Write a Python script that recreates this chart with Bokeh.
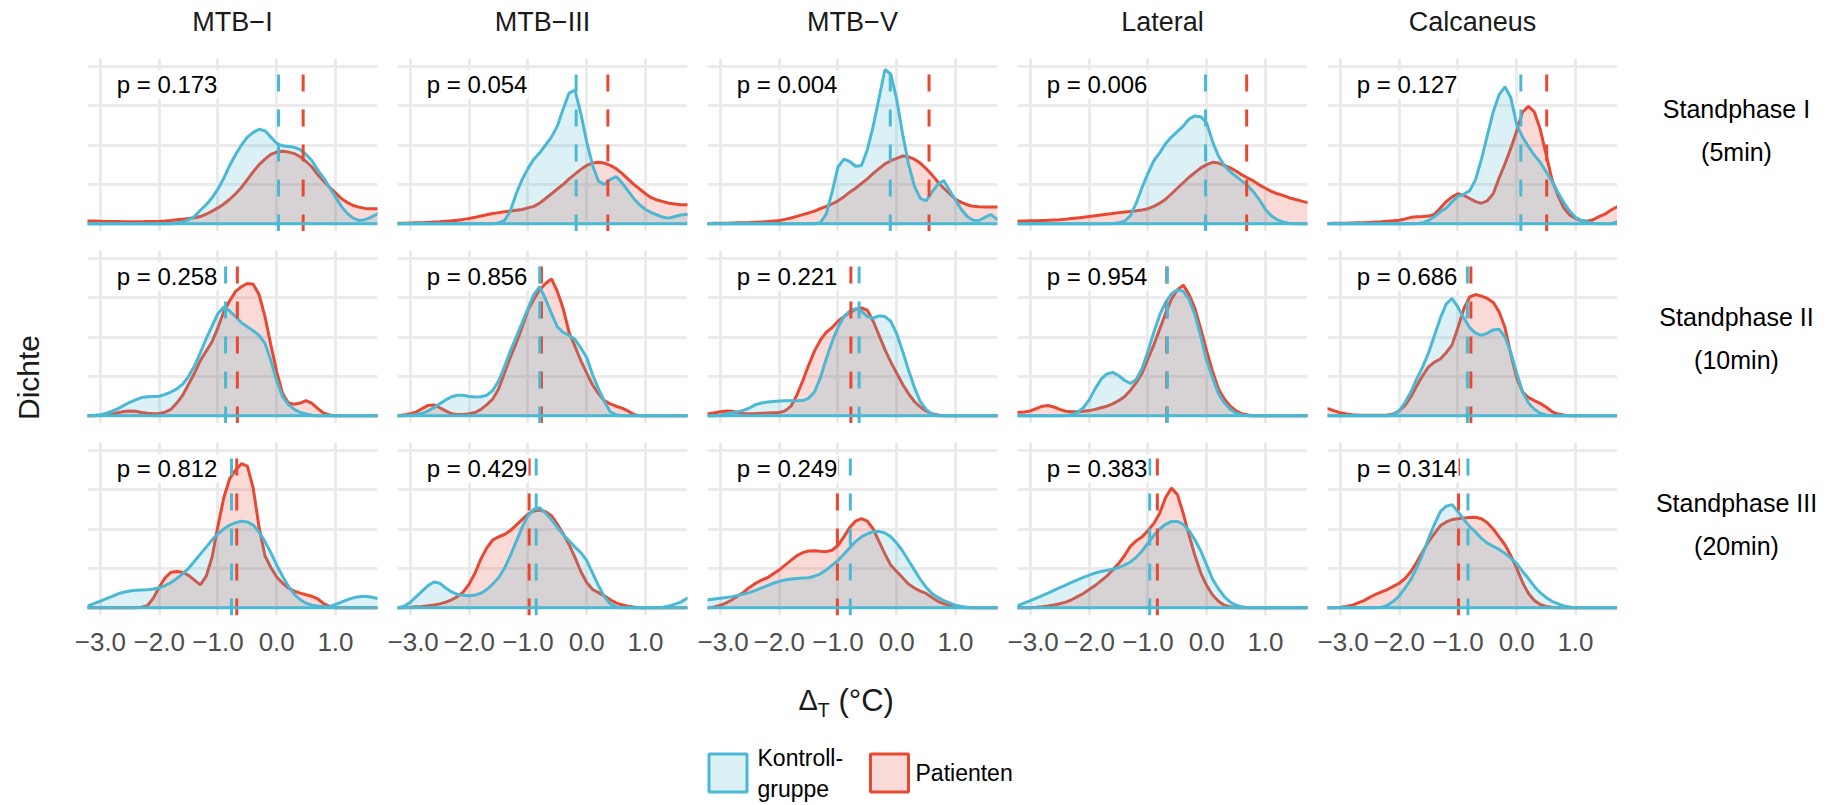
import math
from bokeh.plotting import figure
from bokeh.layouts import row, column
from bokeh.models import Range1d, Grid, FixedTicker, LinearAxis, Span
from bokeh.core.properties import value
from bokeh.embed import file_html
from bokeh.resources import INLINE

# ---------------- data ----------------
COLUMNS = ["MTB−I", "MTB−III", "MTB−V", "Lateral", "Calcaneus"]
ROWS = ["Standphase I\n(5min)", "Standphase II\n(10min)", "Standphase III\n(20min)"]
GROUPS = ["Kontroll-\ngruppe", "Patienten"]
X_TICKS = [-3, -2, -1, 0, 1]
X_TICK_LABELS = ["−3.0", "−2.0", "−1.0", "0.0", "1.0"]
Y_GRID = [0, 0.25, 0.5, 0.75, 1.0]

X = [-3.3, -3.2, -3.1, -3.0, -2.9, -2.8, -2.7, -2.6, -2.5, -2.4,
     -2.3, -2.2, -2.1, -2.0, -1.9, -1.8, -1.7, -1.6, -1.5, -1.4,
     -1.3, -1.2, -1.1, -1.0, -0.9, -0.8, -0.7, -0.6, -0.5, -0.4,
     -0.3, -0.2, -0.1, 0.0, 0.1, 0.2, 0.3, 0.4, 0.5, 0.6,
     0.7, 0.8, 0.9, 1.0, 1.1, 1.2, 1.3, 1.4, 1.5, 1.6,
     1.7, 1.8]

P_S1 = ["0.173", "0.054", "0.004", "0.006", "0.127"]
P_S2 = ["0.258", "0.856", "0.221", "0.954", "0.686"]
P_S3 = ["0.812", "0.429", "0.249", "0.383", "0.314"]

MEAN_CTRL_S1 = [0.03, -0.18, -0.11, -0.02, 0.07]
MEAN_PAT_S1 = [0.45, 0.36, 0.55, 0.68, 0.51]
MEAN_CTRL_S2 = [-0.87, -0.80, -0.64, -0.67, -0.84]
MEAN_PAT_S2 = [-0.67, -0.77, -0.78, -0.68, -0.78]
MEAN_CTRL_S3 = [-0.77, -0.86, -0.79, -0.97, -0.83]
MEAN_PAT_S3 = [-0.68, -0.98, -1.01, -0.84, -0.99]

CTRL_S1_MTB_I = [0, 0, 0, 0, 0, 0, 0, 0, 0, 0,
                 0, 0, 0, 0, 0, 0, 0.005, 0.01, 0.025, 0.045,
                 0.085, 0.12, 0.165, 0.22, 0.29, 0.37, 0.44, 0.50, 0.55, 0.58,
                 0.60, 0.59, 0.55, 0.51, 0.495, 0.49, 0.485, 0.47, 0.44, 0.40,
                 0.34, 0.29, 0.23, 0.17, 0.11, 0.065, 0.035, 0.02, 0.025, 0.04,
                 0.06, 0.08]
PAT_S1_MTB_I = [0.018, 0.017, 0.016, 0.015, 0.014, 0.013, 0.013, 0.012, 0.012, 0.012,
                0.012, 0.013, 0.014, 0.015, 0.017, 0.02, 0.024, 0.028, 0.033, 0.038,
                0.045, 0.06, 0.08, 0.10, 0.125, 0.155, 0.19, 0.23, 0.28, 0.33,
                0.375, 0.41, 0.44, 0.455, 0.46, 0.455, 0.445, 0.425, 0.395, 0.36,
                0.31, 0.27, 0.23, 0.195, 0.16, 0.135, 0.115, 0.105, 0.097, 0.095,
                0.095, 0.095]
CTRL_S1_MTB_III = [0, 0, 0, 0, 0, 0, 0, 0, 0, 0,
                   0, 0, 0, 0, 0, 0, 0, 0, 0.005, 0.02,
                   0.08, 0.19, 0.28, 0.35, 0.41, 0.45, 0.5, 0.55, 0.62, 0.73,
                   0.83, 0.85, 0.70, 0.52, 0.37, 0.27, 0.25, 0.28, 0.30, 0.26,
                   0.21, 0.16, 0.12, 0.09, 0.07, 0.055, 0.04, 0.035, 0.045, 0.055,
                   0.06, 0.055]
PAT_S1_MTB_III = [0.002, 0.002, 0.003, 0.004, 0.005, 0.006, 0.008, 0.01, 0.012, 0.015,
                  0.018, 0.022, 0.027, 0.033, 0.04, 0.048, 0.056, 0.064, 0.07, 0.075,
                  0.08, 0.085, 0.09, 0.1, 0.11, 0.13, 0.16, 0.19, 0.22, 0.25,
                  0.285, 0.315, 0.345, 0.37, 0.385, 0.39, 0.385, 0.37, 0.35, 0.32,
                  0.285, 0.25, 0.22, 0.19, 0.165, 0.15, 0.14, 0.13, 0.125, 0.12,
                  0.12, 0.12]
CTRL_S1_MTB_V = [0, 0, 0, 0, 0, 0, 0, 0, 0, 0,
                 0, 0, 0, 0, 0, 0, 0, 0, 0, 0,
                 0.005, 0.06, 0.2, 0.36, 0.41, 0.395, 0.365, 0.37, 0.47, 0.62,
                 0.80, 0.98, 0.95, 0.79, 0.57, 0.38, 0.24, 0.16, 0.145, 0.20,
                 0.25, 0.275, 0.21, 0.15, 0.09, 0.045, 0.022, 0.02, 0.04, 0.058,
                 0.03, 0.015]
PAT_S1_MTB_V = [0.001, 0.001, 0.002, 0.002, 0.003, 0.004, 0.005, 0.006, 0.007, 0.009,
                0.011, 0.013, 0.016, 0.02, 0.027, 0.036, 0.046, 0.057, 0.068, 0.08,
                0.095, 0.11, 0.125, 0.145, 0.17, 0.2, 0.225, 0.255, 0.285, 0.32,
                0.35, 0.38, 0.4, 0.415, 0.43, 0.425, 0.41, 0.385, 0.35, 0.31,
                0.265, 0.225, 0.19, 0.155, 0.135, 0.12, 0.11, 0.107, 0.106, 0.106,
                0.106, 0.106]
CTRL_S1_LATERAL = [0, 0, 0, 0, 0, 0, 0, 0, 0, 0,
                   0, 0, 0, 0, 0, 0, 0, 0, 0.005, 0.015,
                   0.05, 0.13, 0.23, 0.32, 0.40, 0.45, 0.51, 0.55, 0.585, 0.62,
                   0.665, 0.685, 0.68, 0.64, 0.52, 0.43, 0.37, 0.33, 0.30, 0.27,
                   0.24, 0.2, 0.15, 0.09, 0.05, 0.025, 0.01, 0.003, 0, 0,
                   0, 0]
PAT_S1_LATERAL = [0.015, 0.016, 0.017, 0.018, 0.019, 0.02, 0.021, 0.023, 0.025, 0.028,
                  0.032, 0.036, 0.04, 0.045, 0.05, 0.055, 0.06, 0.065, 0.07, 0.074,
                  0.078, 0.082, 0.087, 0.095, 0.11, 0.13, 0.155, 0.19, 0.225, 0.26,
                  0.295, 0.325, 0.355, 0.375, 0.39, 0.385, 0.37, 0.355, 0.335, 0.31,
                  0.29, 0.27, 0.245, 0.225, 0.205, 0.19, 0.18, 0.165, 0.155, 0.145,
                  0.135, 0.13]
CTRL_S1_CALCANEUS = [0, 0, 0, 0, 0, 0, 0, 0, 0, 0,
                     0, 0, 0, 0, 0, 0, 0, 0.005, 0.02, 0.045,
                     0.075, 0.10, 0.14, 0.175, 0.187, 0.21, 0.28, 0.41, 0.56, 0.71,
                     0.82, 0.87, 0.80, 0.63, 0.55, 0.49, 0.435, 0.39, 0.33, 0.27,
                     0.2, 0.135, 0.08, 0.04, 0.02, 0.01, 0.003, 0, 0, 0,
                     0.01, 0.02]
PAT_S1_CALCANEUS = [0.001, 0.001, 0.002, 0.002, 0.003, 0.004, 0.005, 0.006, 0.008, 0.01,
                    0.012, 0.015, 0.018, 0.022, 0.03, 0.04, 0.044, 0.045, 0.048, 0.06,
                    0.1, 0.14, 0.17, 0.19, 0.18, 0.16, 0.14, 0.13, 0.145, 0.19,
                    0.29, 0.38, 0.48, 0.59, 0.71, 0.745, 0.71, 0.60, 0.44, 0.28,
                    0.18, 0.1, 0.055, 0.033, 0.02, 0.015, 0.025, 0.045, 0.06, 0.085,
                    0.105, 0.12]

CTRL_S2_MTB_I = [0, 0, 0.002, 0.006, 0.015, 0.028, 0.045, 0.065, 0.085, 0.1,
                 0.115, 0.12, 0.122, 0.123, 0.135, 0.15, 0.17, 0.2, 0.25, 0.315,
                 0.4, 0.49, 0.57, 0.65, 0.69, 0.665, 0.63, 0.59, 0.565, 0.54,
                 0.51, 0.46, 0.35, 0.22, 0.12, 0.07, 0.04, 0.02, 0.01, 0.003,
                 0, 0, 0, 0, 0, 0, 0, 0, 0, 0,
                 0, 0]
PAT_S2_MTB_I = [0, 0, 0, 0.002, 0.005, 0.01, 0.018, 0.026, 0.03, 0.028,
                0.02, 0.015, 0.012, 0.014, 0.022, 0.04, 0.08, 0.13, 0.2, 0.27,
                0.35, 0.41, 0.47, 0.56, 0.66, 0.73, 0.79, 0.82, 0.84, 0.835,
                0.77, 0.63, 0.45, 0.28, 0.14, 0.08, 0.072, 0.08, 0.095, 0.078,
                0.045, 0.015, 0.004, 0, 0, 0, 0, 0, 0, 0,
                0, 0]
CTRL_S2_MTB_III = [0, 0, 0, 0.003, 0.008, 0.015, 0.03, 0.05, 0.075, 0.1,
                   0.12, 0.13, 0.13, 0.122, 0.118, 0.12, 0.13, 0.16, 0.22, 0.31,
                   0.41, 0.5, 0.59, 0.68, 0.77, 0.82, 0.74, 0.65, 0.565, 0.53,
                   0.51, 0.485, 0.43, 0.37, 0.26, 0.17, 0.09, 0.025, 0.005, 0,
                   0, 0, 0, 0, 0, 0, 0, 0, 0, 0,
                   0, 0]
PAT_S2_MTB_III = [0, 0, 0.005, 0.012, 0.024, 0.045, 0.065, 0.068, 0.05, 0.03,
                  0.012, 0.007, 0.008, 0.012, 0.02, 0.04, 0.07, 0.105, 0.17, 0.27,
                  0.37, 0.46, 0.56, 0.67, 0.74, 0.8, 0.84, 0.87, 0.79, 0.68,
                  0.53, 0.44, 0.35, 0.27, 0.195, 0.14, 0.095, 0.075, 0.06, 0.048,
                  0.03, 0.008, 0, 0, 0, 0, 0, 0, 0, 0,
                  0, 0]
CTRL_S2_MTB_V = [0, 0, 0, 0.004, 0.01, 0.018, 0.025, 0.035, 0.05, 0.07,
                 0.08, 0.087, 0.09, 0.093, 0.094, 0.094, 0.094, 0.096, 0.11, 0.15,
                 0.24, 0.36, 0.47, 0.56, 0.63, 0.665, 0.68, 0.665, 0.63, 0.62,
                 0.635, 0.63, 0.6, 0.52, 0.41, 0.29, 0.18, 0.09, 0.04, 0.01,
                 0, 0, 0, 0, 0, 0, 0, 0, 0, 0,
                 0, 0]
PAT_S2_MTB_V = [0.01, 0.012, 0.018, 0.025, 0.03, 0.028, 0.02, 0.014, 0.012, 0.013,
                0.015, 0.017, 0.019, 0.02, 0.03, 0.06, 0.13, 0.22, 0.32, 0.41,
                0.48, 0.53, 0.56, 0.6, 0.63, 0.655, 0.675, 0.685, 0.67, 0.6,
                0.51, 0.42, 0.34, 0.27, 0.2, 0.14, 0.09, 0.055, 0.03, 0.012,
                0.004, 0, 0, 0, 0, 0, 0, 0, 0, 0,
                0, 0]
CTRL_S2_LATERAL = [0, 0, 0, 0, 0, 0, 0, 0, 0, 0,
                   0.005, 0.02, 0.05, 0.1, 0.17, 0.23, 0.265, 0.275, 0.255, 0.225,
                   0.205, 0.23, 0.3, 0.41, 0.53, 0.64, 0.72, 0.775, 0.8, 0.79,
                   0.74, 0.64, 0.50, 0.35, 0.24, 0.14, 0.08, 0.04, 0.015, 0.005,
                   0, 0, 0, 0, 0, 0, 0, 0, 0, 0,
                   0, 0]
PAT_S2_LATERAL = [0.022, 0.022, 0.023, 0.03, 0.045, 0.06, 0.064, 0.055, 0.04, 0.028,
                  0.024, 0.025, 0.028, 0.032, 0.04, 0.05, 0.06, 0.075, 0.095, 0.12,
                  0.16, 0.21, 0.27, 0.36, 0.45, 0.55, 0.65, 0.74, 0.8, 0.83,
                  0.77, 0.68, 0.55, 0.41, 0.28, 0.17, 0.106, 0.06, 0.03, 0.012,
                  0.004, 0, 0, 0, 0, 0, 0, 0, 0, 0,
                  0, 0]
CTRL_S2_CALCANEUS = [0, 0, 0, 0, 0, 0, 0, 0, 0, 0,
                     0, 0, 0.008, 0.03, 0.085, 0.15, 0.235, 0.31, 0.40, 0.51,
                     0.62, 0.71, 0.745, 0.69, 0.62, 0.56, 0.525, 0.51, 0.525, 0.545,
                     0.55, 0.5, 0.4, 0.27, 0.15, 0.08, 0.04, 0.015, 0.004, 0,
                     0, 0, 0, 0, 0, 0, 0, 0, 0, 0,
                     0, 0]
PAT_S2_CALCANEUS = [0.05, 0.043, 0.03, 0.018, 0.01, 0.006, 0.004, 0.003, 0.003, 0.003,
                    0.003, 0.004, 0.01, 0.03, 0.065, 0.12, 0.19, 0.255, 0.31, 0.34,
                    0.36, 0.4, 0.45, 0.56, 0.68, 0.755, 0.77, 0.76, 0.745, 0.72,
                    0.66, 0.56, 0.39, 0.24, 0.15, 0.115, 0.095, 0.078, 0.055, 0.025,
                    0.01, 0.004, 0, 0, 0, 0, 0, 0, 0, 0,
                    0, 0]

CTRL_S3_MTB_I = [0.005, 0.013, 0.027, 0.042, 0.057, 0.072, 0.088, 0.098, 0.106, 0.11,
                 0.112, 0.114, 0.118, 0.126, 0.14, 0.16, 0.185, 0.215, 0.25, 0.295,
                 0.34, 0.385, 0.43, 0.47, 0.5, 0.525, 0.54, 0.55, 0.545, 0.525,
                 0.48, 0.42, 0.35, 0.27, 0.2, 0.135, 0.085, 0.05, 0.028, 0.016,
                 0.01, 0.005, 0.008, 0.02, 0.035, 0.05, 0.062, 0.07, 0.072, 0.068,
                 0.06, 0.05]
PAT_S3_MTB_I = [0, 0, 0, 0, 0, 0, 0, 0, 0, 0,
                0.002, 0.012, 0.06, 0.13, 0.19, 0.225, 0.23, 0.225, 0.205, 0.175,
                0.145, 0.2, 0.32, 0.52, 0.7, 0.82, 0.875, 0.915, 0.9, 0.76,
                0.51, 0.33, 0.255, 0.195, 0.155, 0.125, 0.105, 0.092, 0.082, 0.072,
                0.055, 0.025, 0.008, 0, 0, 0, 0, 0, 0, 0,
                0, 0]
CTRL_S3_MTB_III = [0, 0, 0.01, 0.035, 0.07, 0.105, 0.14, 0.163, 0.155, 0.125,
                   0.1, 0.085, 0.078, 0.075, 0.08, 0.092, 0.115, 0.15, 0.19, 0.25,
                   0.33, 0.42, 0.51, 0.585, 0.625, 0.635, 0.6, 0.56, 0.51, 0.465,
                   0.425, 0.385, 0.35, 0.30, 0.22, 0.14, 0.07, 0.025, 0.005, 0,
                   0, 0, 0, 0, 0, 0, 0.002, 0.01, 0.022, 0.035,
                   0.058, 0.075]
PAT_S3_MTB_III = [0, 0, 0, 0.002, 0.005, 0.008, 0.012, 0.017, 0.024, 0.035,
                  0.05, 0.07, 0.1, 0.15, 0.22, 0.31, 0.38, 0.43, 0.45, 0.465,
                  0.49, 0.525, 0.56, 0.595, 0.615, 0.62, 0.61, 0.585, 0.53, 0.47,
                  0.4, 0.32, 0.23, 0.16, 0.115, 0.095, 0.075, 0.05, 0.03, 0.018,
                  0.009, 0.004, 0, 0, 0, 0, 0, 0, 0, 0,
                  0, 0]
CTRL_S3_MTB_V = [0.045, 0.05, 0.055, 0.06, 0.065, 0.07, 0.078, 0.087, 0.097, 0.11,
                 0.125, 0.14, 0.155, 0.167, 0.176, 0.182, 0.186, 0.188, 0.19, 0.2,
                 0.215, 0.24, 0.27, 0.3, 0.34, 0.38, 0.42, 0.45, 0.47, 0.483,
                 0.485, 0.475, 0.45, 0.41, 0.36, 0.3, 0.24, 0.18, 0.13, 0.09,
                 0.065, 0.045, 0.03, 0.015, 0.007, 0.002, 0, 0, 0, 0,
                 0, 0]
PAT_S3_MTB_V = [0, 0, 0.004, 0.015, 0.03, 0.05, 0.075, 0.1, 0.13, 0.155,
                0.175, 0.19, 0.215, 0.24, 0.27, 0.3, 0.33, 0.35, 0.36, 0.362,
                0.358, 0.356, 0.365, 0.395, 0.45, 0.51, 0.55, 0.566, 0.55, 0.5,
                0.42, 0.34, 0.27, 0.23, 0.19, 0.15, 0.125, 0.105, 0.09, 0.065,
                0.04, 0.025, 0.015, 0.008, 0.003, 0, 0, 0, 0, 0,
                0, 0]
CTRL_S3_LATERAL = [0.005, 0.015, 0.03, 0.045, 0.06, 0.077, 0.093, 0.11, 0.127, 0.143,
                   0.16, 0.177, 0.193, 0.207, 0.22, 0.23, 0.238, 0.245, 0.255, 0.27,
                   0.29, 0.32, 0.36, 0.41, 0.46, 0.5, 0.53, 0.548, 0.548, 0.53,
                   0.49, 0.43, 0.36, 0.27, 0.18, 0.12, 0.07, 0.035, 0.015, 0.005,
                   0, 0, 0, 0, 0, 0, 0, 0, 0, 0,
                   0, 0]
PAT_S3_LATERAL = [0, 0, 0, 0, 0.002, 0.005, 0.01, 0.017, 0.025, 0.035,
                  0.05, 0.07, 0.09, 0.115, 0.14, 0.17, 0.2, 0.24, 0.28, 0.33,
                  0.39, 0.425, 0.45, 0.49, 0.535, 0.6, 0.7, 0.76, 0.72, 0.6,
                  0.46, 0.33, 0.22, 0.14, 0.08, 0.04, 0.015, 0.005, 0, 0,
                  0, 0, 0, 0, 0, 0, 0, 0, 0, 0,
                  0, 0]
CTRL_S3_CALCANEUS = [0, 0, 0, 0, 0, 0, 0, 0, 0, 0,
                     0.002, 0.015, 0.04, 0.075, 0.125, 0.18, 0.255, 0.34, 0.44, 0.53,
                     0.61, 0.645, 0.655, 0.61, 0.56, 0.515, 0.48, 0.44, 0.41, 0.39,
                     0.37, 0.345, 0.315, 0.28, 0.23, 0.185, 0.135, 0.095, 0.065, 0.04,
                     0.025, 0.01, 0.004, 0, 0, 0, 0, 0, 0, 0,
                     0, 0]
PAT_S3_CALCANEUS = [0, 0, 0, 0.003, 0.008, 0.015, 0.03, 0.045, 0.065, 0.085,
                    0.1, 0.115, 0.135, 0.155, 0.185, 0.23, 0.29, 0.355, 0.42, 0.47,
                    0.52, 0.545, 0.56, 0.565, 0.57, 0.573, 0.575, 0.565, 0.54, 0.5,
                    0.45, 0.4, 0.33, 0.25, 0.16, 0.09, 0.045, 0.02, 0.008, 0.003,
                    0, 0, 0, 0, 0, 0, 0, 0, 0, 0,
                    0, 0]

CTRL = [[CTRL_S1_MTB_I, CTRL_S1_MTB_III, CTRL_S1_MTB_V, CTRL_S1_LATERAL, CTRL_S1_CALCANEUS],
        [CTRL_S2_MTB_I, CTRL_S2_MTB_III, CTRL_S2_MTB_V, CTRL_S2_LATERAL, CTRL_S2_CALCANEUS],
        [CTRL_S3_MTB_I, CTRL_S3_MTB_III, CTRL_S3_MTB_V, CTRL_S3_LATERAL, CTRL_S3_CALCANEUS]]
PAT = [[PAT_S1_MTB_I, PAT_S1_MTB_III, PAT_S1_MTB_V, PAT_S1_LATERAL, PAT_S1_CALCANEUS],
       [PAT_S2_MTB_I, PAT_S2_MTB_III, PAT_S2_MTB_V, PAT_S2_LATERAL, PAT_S2_CALCANEUS],
       [PAT_S3_MTB_I, PAT_S3_MTB_III, PAT_S3_MTB_V, PAT_S3_LATERAL, PAT_S3_CALCANEUS]]
P_VALUES = [P_S1, P_S2, P_S3]
MEAN_CTRL = [MEAN_CTRL_S1, MEAN_CTRL_S2, MEAN_CTRL_S3]
MEAN_PAT = [MEAN_PAT_S1, MEAN_PAT_S2, MEAN_PAT_S3]

for grp in CTRL + PAT:
    for arr in grp:
        assert len(arr) == len(X), len(arr)

# ---------------- style / layout ----------------
FONT = "Liberation Sans"
BLUE = "#4BB8D4"
RED = "#E84832"
GRID_C = "#EBEBEB"
TXT = "#1A1A1A"

W, H = 1838, 805
PANEL0_X = 87          # page x of first panel's left edge
PANEL_W = 290
HGAP = 20
PAD = 10               # side room inside each panel canvas for tick labels
LEFT_W = PANEL0_X - 15
PANEL_H = 173
VGAP = 19
TITLE_H = 58
AXIS_H = 55
MID_W = 5 * PANEL_W + 4 * HGAP + 15
RIGHT_W = W - LEFT_W - MID_W
BOTTOM_H = H - TITLE_H - 3 * PANEL_H - 2 * VGAP - AXIS_H
XR = (-3.22, 1.715)
YR = (-0.05, 1.05)


def blank(width, height, xr, yr):
    p = figure(width=width, height=height, x_range=Range1d(*xr), y_range=Range1d(*yr),
               x_axis_location=None, y_axis_location=None, toolbar_location=None,
               output_backend="svg", min_border_left=0, min_border_right=0,
               min_border_top=0, min_border_bottom=0, outline_line_color=None,
               background_fill_color="white", border_fill_color="white")
    p.grid.visible = False
    return p


def panel(r, c):
    left = 15 if c == 0 else PAD
    right = PAD if c < 4 else 0
    top = 0 if r == 0 else VGAP
    bottom = AXIS_H if r == 2 else 0
    p = figure(width=PANEL_W + left + right, height=PANEL_H + top + bottom,
               x_range=Range1d(*XR), y_range=Range1d(*YR),
               x_axis_location=None, y_axis_location=None, toolbar_location=None,
               output_backend="svg", min_border_left=left, min_border_right=right,
               min_border_top=top, min_border_bottom=bottom, outline_line_color=None,
               background_fill_color="white", border_fill_color="white")
    p.grid.visible = False
    p.add_layout(Grid(dimension=0, ticker=FixedTicker(ticks=X_TICKS),
                      grid_line_color=GRID_C, grid_line_width=3))
    p.add_layout(Grid(dimension=1, ticker=FixedTicker(ticks=Y_GRID),
                      grid_line_color=GRID_C, grid_line_width=3))

    p.varea(x=X, y1=0, y2=PAT[r][c], fill_color=RED, fill_alpha=0.2)
    p.line(X, PAT[r][c], line_color=RED, line_width=3)
    p.varea(x=X, y1=0, y2=CTRL[r][c], fill_color=BLUE, fill_alpha=0.2)
    p.line(X, CTRL[r][c], line_color=BLUE, line_width=3)
    p.add_layout(Span(location=0, dimension="width", line_color=BLUE, line_width=3))

    p.segment(x0=[MEAN_PAT[r][c]], y0=[YR[0]], x1=[MEAN_PAT[r][c]], y1=[YR[1]],
              line_color=RED, line_width=3, line_dash="17 18")
    p.segment(x0=[MEAN_CTRL[r][c]], y0=[YR[0]], x1=[MEAN_CTRL[r][c]], y1=[YR[1]],
              line_color=BLUE, line_width=3, line_dash="17 18")

    p.text(x=[-2.74], y=[0.885], text=["p = " + P_VALUES[r][c]],
           text_font=value(FONT), text_font_size="24px", text_color="black",
           text_align="left", text_baseline="middle",
           background_fill_color="white", padding=1)

    if r == 2:
        ax = LinearAxis(ticker=FixedTicker(ticks=X_TICKS),
                        major_label_overrides=dict(zip(X_TICKS, X_TICK_LABELS)),
                        axis_line_color=None, major_tick_line_color=None,
                        minor_tick_line_color=None, major_tick_in=0, major_tick_out=0,
                        major_label_standoff=17, major_label_text_font=FONT,
                        major_label_text_font_size="26px",
                        major_label_text_color="#4D4D4D")
        p.add_layout(ax, "below")
    return p


# column titles
title_fig = blank(MID_W, TITLE_H, (LEFT_W, LEFT_W + MID_W), (TITLE_H, 0))
title_x = [PANEL0_X + PANEL_W / 2 + i * (PANEL_W + HGAP) for i in range(len(COLUMNS))]
title_fig.text(x=title_x, y=[21] * len(COLUMNS), text=COLUMNS,
               text_font=value(FONT), text_font_size="27px", text_color=TXT,
               text_align="center", text_baseline="middle")

panel_rows = [row(*[panel(r, c) for c in range(5)], spacing=0) for r in range(3)]

# bottom: axis title and legend
top_b = H - BOTTOM_H
bottom_fig = blank(MID_W, BOTTOM_H, (LEFT_W, LEFT_W + MID_W), (H, top_b))
bottom_fig.text(x=[798], y=[699], text=["Δ"], text_font=value(FONT),
                text_font_size="29px", text_color=TXT, text_align="left",
                text_baseline="middle")
bottom_fig.text(x=[817], y=[709], text=["T"], text_font=value(FONT),
                text_font_size="20px", text_color=TXT, text_align="left",
                text_baseline="middle")
bottom_fig.text(x=[838], y=[700], text=["(°C)"], text_font=value(FONT),
                text_font_size="31px", text_color=TXT, text_align="left",
                text_baseline="middle")
bottom_fig.rect(x=[727.5, 889], y=[772.5, 772.5], width=38, height=38,
                fill_color=[BLUE, RED], fill_alpha=0.2, line_color=[BLUE, RED],
                line_width=3)
bottom_fig.text(x=[757, 915], y=[773, 772], text=GROUPS, text_font=value(FONT),
                text_font_size="23px", text_color="black", text_align="left",
                text_baseline="middle", text_line_height=1.2)

# left: y label
left_fig = blank(LEFT_W, H, (0, LEFT_W), (H, 0))
left_fig.text(x=[27.5], y=[377], text=["Dichte"], angle=math.pi / 2,
              text_font=value(FONT), text_font_size="30px", text_color=TXT,
              text_align="center", text_baseline="middle")

# right: row strip labels
right_fig = blank(RIGHT_W, H, (LEFT_W + MID_W, W), (H, 0))
right_fig.text(x=[1736, 1736, 1736], y=[130, 338, 524], text=ROWS,
               text_font=value(FONT), text_font_size="25px", text_color="black",
               text_align="center", text_baseline="middle", text_line_height=1.55)

mid = column(title_fig, *panel_rows, bottom_fig, spacing=0)
layout = row(left_fig, mid, right_fig, spacing=0)

open("out.html", "w").write(file_html(layout, INLINE))
